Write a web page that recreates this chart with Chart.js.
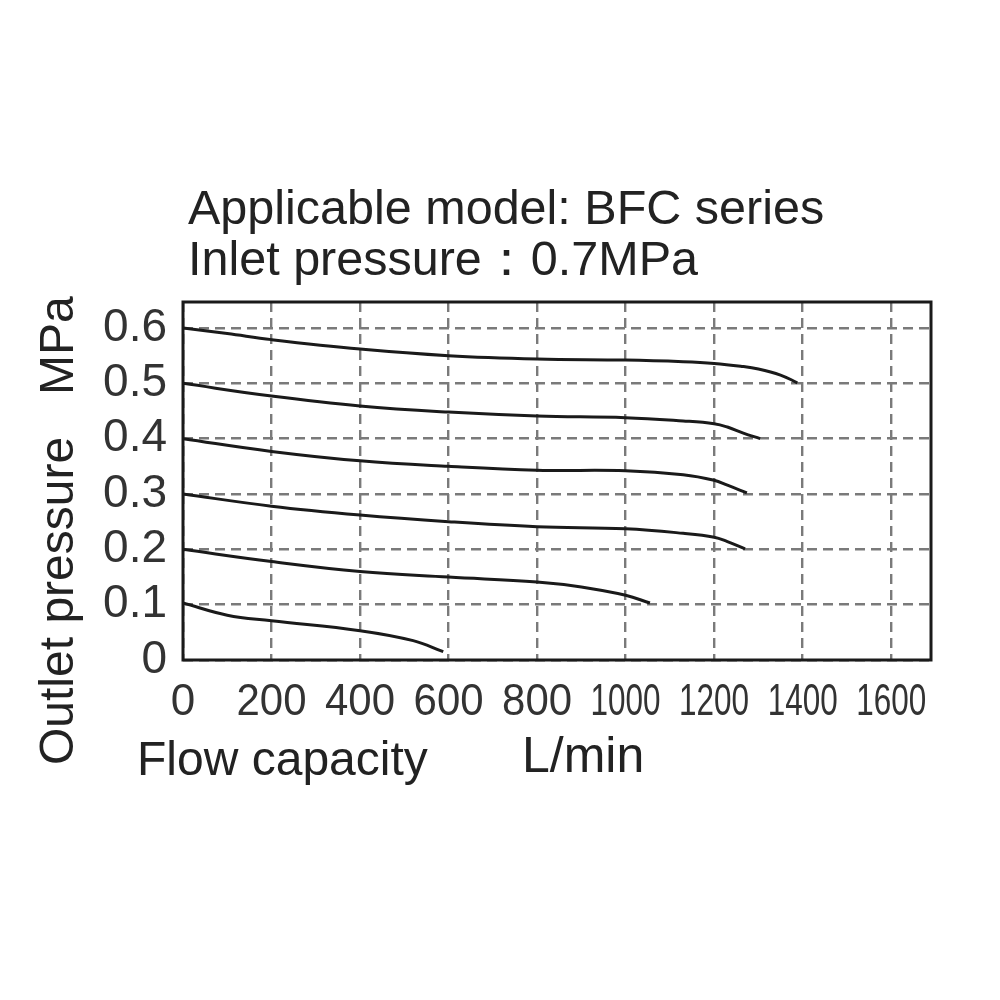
<!DOCTYPE html>
<html>
<head>
<meta charset="utf-8">
<title>BFC flow characteristics</title>
<script src="https://cdn.jsdelivr.net/npm/chart.js@4/dist/chart.umd.min.js"></script>
<style>
  body { margin: 0; background: #fff; }
  canvas { display: block; }
</style>
</head>
<body>
<canvas id="flowChart" width="1000" height="1000"></canvas>
<script>
// flow (L/min) / outlet pressure (MPa), one pair of arrays per curve
var flow06 = [0, 100, 200, 400, 600, 800, 1000, 1130, 1200, 1260, 1300, 1350, 1388]
var pres06 = [0.600, 0.590, 0.579, 0.562, 0.550, 0.544, 0.542, 0.539, 0.536, 0.531, 0.526, 0.515, 0.501]

var flow05 = [0, 200, 400, 600, 800, 1000, 1130, 1200, 1230, 1266, 1304]
var pres05 = [0.500, 0.477, 0.459, 0.448, 0.441, 0.438, 0.432, 0.427, 0.421, 0.410, 0.400]

var flow04 = [0, 200, 400, 600, 800, 1000, 1130, 1200, 1230, 1274]
var pres04 = [0.400, 0.377, 0.360, 0.350, 0.343, 0.342, 0.335, 0.325, 0.316, 0.302]

var flow03 = [0, 200, 400, 600, 800, 1000, 1130, 1200, 1230, 1270]
var pres03 = [0.300, 0.278, 0.262, 0.250, 0.241, 0.237, 0.229, 0.222, 0.214, 0.201]

var flow02 = [0, 200, 400, 600, 800, 900, 1000, 1055]
var pres02 = [0.200, 0.178, 0.160, 0.150, 0.141, 0.132, 0.117, 0.103]

var flow01 = [0, 100, 200, 400, 520, 588]
var pres01 = [0.103, 0.081, 0.071, 0.053, 0.035, 0.015]

var xTicks = [0, 200, 400, 600, 800, 1000, 1200, 1400, 1600]
var yTicks = [0, 0.1, 0.2, 0.3, 0.4, 0.5, 0.6]

var titleLines = ["Applicable model: BFC series", "Inlet pressure\uFF1A0.7MPa"]
var yTitle = ["Outlet pressure", "MPa"]
var xTitle = ["Flow capacity", "L/min"]

function toPoints(xs, ys) {
    var pts = []
    for (var i = 0; i < xs.length; i++) {
        pts.push({x: xs[i], y: ys[i]})
    }
    return pts
}

function curve(xs, ys) {
    return {
        data: toPoints(xs, ys),
        borderColor: "#1a1a1a",
        borderWidth: 3,
        pointRadius: 0,
        tension: 0.4,
        fill: false
    }
}

var textFont = "'Liberation Sans', Arial, sans-serif"

// headings, axis titles and squeezed x labels drawn around the plot box
var textPlugin = {
    id: "frameAndText",
    afterDraw: function(chart) {
        var ctx = chart.ctx
        var a = chart.chartArea
        ctx.save()
        ctx.strokeStyle = "#1a1a1a"
        ctx.lineWidth = 3
        ctx.strokeRect(a.left, a.top, a.right - a.left, a.bottom - a.top)

        ctx.fillStyle = "#222"
        ctx.textBaseline = "alphabetic"
        ctx.textAlign = "left"
        ctx.font = "48.5px " + textFont
        ctx.fillText(titleLines[0], a.left + 5, 224)
        ctx.fillText(titleLines[1], a.left + 5, 275)

        ctx.font = "48px " + textFont
        ctx.fillText(xTitle[0], 137, 775)
        ctx.font = "50px " + textFont
        ctx.fillText(xTitle[1], 522, 772)

        // x tick labels, narrowed like the original when they get long
        var xs = chart.scales.x
        ctx.font = "44px " + textFont
        ctx.fillStyle = "#333"
        ctx.textAlign = "center"
        ctx.textBaseline = "middle"
        xs.ticks.forEach(function(t) {
            var label = String(t.value)
            var w = ctx.measureText(label).width
            var sx = w > 70 ? 70 / w : 1
            ctx.save()
            ctx.translate(xs.getPixelForValue(t.value), a.bottom + 43)
            ctx.scale(sx, 1)
            ctx.fillText(label, 0, 0)
            ctx.restore()
        })

        ctx.fillStyle = "#222"
        ctx.textAlign = "left"
        ctx.textBaseline = "alphabetic"
        ctx.font = "48px " + textFont
        ctx.translate(73, 765)
        ctx.rotate(-Math.PI / 2)
        ctx.fillText(yTitle[0], 0, 0)
        ctx.fillText(yTitle[1], 370, 0)
        ctx.restore()
    }
}

new Chart(document.getElementById("flowChart").getContext("2d"), {
    type: "line",
    data: {
        datasets: [
            curve(flow06, pres06),
            curve(flow05, pres05),
            curve(flow04, pres04),
            curve(flow03, pres03),
            curve(flow02, pres02),
            curve(flow01, pres01)
        ]
    },
    options: {
        responsive: false,
        animation: false,
        layout: {
            padding: {top: 302, right: 69, left: 0, bottom: 0}
        },
        plugins: {
            legend: {display: false},
            tooltip: {enabled: false}
        },
        scales: {
            x: {
                type: "linear",
                min: 0,
                max: 1690,
                afterBuildTicks: function(scale) {
                    scale.ticks = xTicks.map(function(v) { return {value: v} })
                },
                afterFit: function(scale) {
                    scale.height = 340
                },
                grid: {
                    color: "#7a7a7a",
                    lineWidth: 2.4,
                    drawTicks: false
                },
                border: {display: false, dash: [10, 6]},
                ticks: {display: false}
            },
            y: {
                type: "linear",
                min: 0,
                max: 0.647,
                afterBuildTicks: function(scale) {
                    scale.ticks = yTicks.map(function(v) { return {value: v} })
                },
                afterFit: function(scale) {
                    scale.width = 183
                },
                grid: {
                    color: "#7a7a7a",
                    lineWidth: 2.4,
                    drawTicks: false
                },
                border: {display: false, dash: [10, 6]},
                ticks: {
                    padding: 16,
                    color: "#333",
                    font: {family: textFont, size: 46},
                    callback: function(v) { return v === 0 ? "0" : v.toFixed(1) }
                }
            }
        }
    },
    plugins: [textPlugin]
})
</script>
</body>
</html>
